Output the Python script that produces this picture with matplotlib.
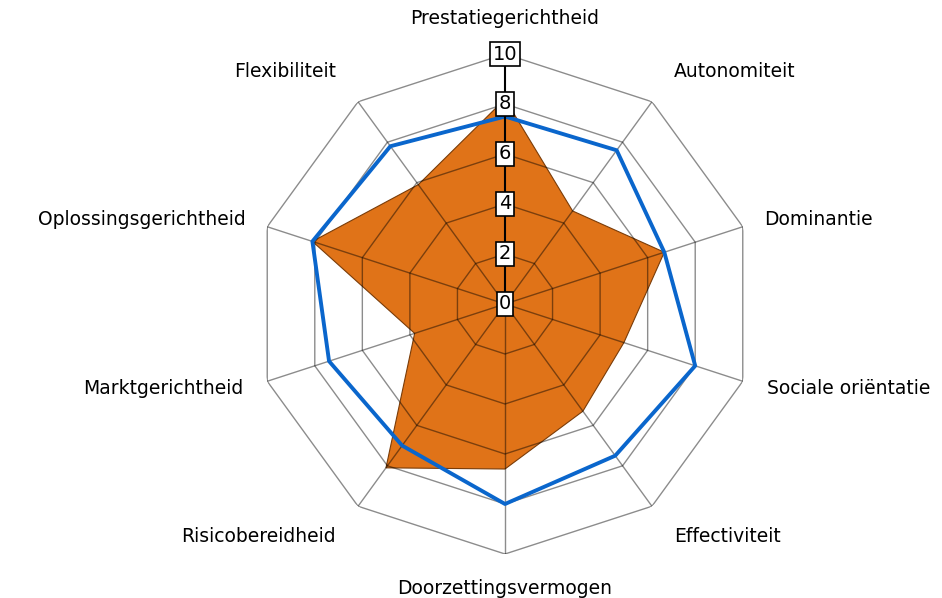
import numpy as np
import matplotlib
matplotlib.use("Agg")
import matplotlib.pyplot as plt

categories = ["Prestatiegerichtheid", "Autonomiteit", "Dominantie", "Sociale oriëntatie",
              "Effectiviteit", "Doorzettingsvermogen", "Risicobereidheid", "Marktgerichtheid",
              "Oplossingsgerichtheid", "Flexibiliteit"]
person = [8.2, 4.6, 6.7, 5.0, 5.3, 6.6, 8.1, 3.8, 8.1, 5.9]
norm = [7.5, 7.6, 6.7, 8.0, 7.5, 8.0, 7.0, 7.4, 8.1, 7.8]
rings = [2, 4, 6, 8, 10]
tick_values = [0, 2, 4, 6, 8, 10]

n = len(categories)
theta = np.arange(n) * 2 * np.pi / n
theta_c = np.append(theta, theta[0])

fig = plt.figure(figsize=(9.42, 5.98), dpi=100)
# centre at (505, 304) px, radius 250 px
ax = fig.add_axes([(505 - 250) / 942, (598 - 304 - 250) / 598, 500 / 942, 500 / 598], polar=True)
ax.set_theta_zero_location("N")
ax.set_theta_direction(-1)
ax.set_ylim(0, 10)
ax.grid(False)
ax.set_xticks([])
ax.set_yticks([])
ax.spines["polar"].set_visible(False)

# orange filled area
ax.fill(theta_c, np.append(person, person[0]), facecolor="#e07318",
        edgecolor="#7a3c08", lw=0.8, zorder=1)

# polygon grid on top, semi-transparent so it darkens over the fill
for r in rings:
    ax.plot(theta_c, [r] * (n + 1), color="black", alpha=0.45, lw=1, zorder=2)
for t in theta[1:]:
    ax.plot([t, t], [0, 10], color="black", alpha=0.45, lw=1, zorder=2)
ax.plot([0, 0], [0, 10], color="black", lw=1.5, zorder=4)

# norm line
ax.plot(theta_c, np.append(norm, norm[0]), color="#0a66cc", lw=2.8, zorder=3)

# boxed tick labels along the top axis
for v in tick_values:
    ax.text(0, v, str(v), ha="center", va="center", fontsize=14, zorder=5,
            bbox=dict(boxstyle="square,pad=0.12", fc="white", ec="black", lw=1.2))

label_r = [11.4, 11.5, 10.9, 11.0, 11.5, 11.4, 11.5, 11.0, 10.9, 11.5]
for t, lab, r in zip(theta, categories, label_r):
    s = np.sin(t)
    ha = "center" if abs(s) < 0.1 else ("left" if s > 0 else "right")
    ax.text(t, r, lab, ha=ha, va="center", fontsize=13.5, clip_on=False)

fig.savefig("out.png", dpi=100)
